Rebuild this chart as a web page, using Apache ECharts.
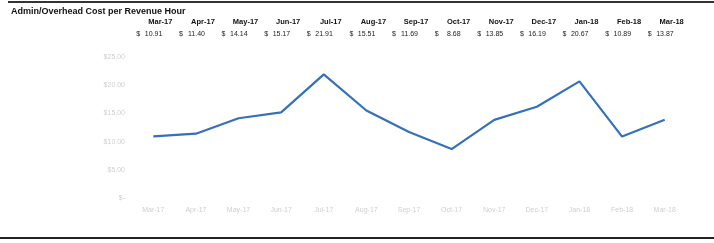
<!DOCTYPE html>
<html><head><meta charset="utf-8">
<script src="https://cdn.jsdelivr.net/npm/echarts@6/dist/echarts.min.js"></script>
<style>html,body{margin:0;padding:0;background:#fff}#c{width:714px;height:243px}</style>
</head><body><div id="c"></div>
<script>
var categories = ['Mar-17','Apr-17','May-17','Jun-17','Jul-17','Aug-17','Sep-17','Oct-17','Nov-17','Dec-17','Jan-18','Feb-18','Mar-18'];
var costValues = [10.91, 11.40, 14.14, 15.17, 21.91, 15.51, 11.69, 8.68, 13.85, 16.19, 20.67, 10.89, 13.87];
var yTicks = [0, 5, 10, 15, 20, 25];

var chart = echarts.init(document.getElementById('c'));
var font = 'Liberation Sans, Arial, sans-serif';
chart.setOption({
  animation: false,
  textStyle: {fontFamily: font},
  grid: {left: 132, right: 28, top: 57, bottom: 45},
  xAxis: {
    type: 'category', data: categories, boundaryGap: true,
    axisLine: {show: false}, axisTick: {show: false},
    axisLabel: {color: '#cfcfcf', fontSize: 7, margin: 9}
  },
  yAxis: {
    type: 'value', min: yTicks[0], max: yTicks[yTicks.length-1], interval: 5,
    splitLine: {show: false}, axisLine: {show: false}, axisTick: {show: false},
    axisLabel: {color: '#cfcfcf', fontSize: 7, margin: 7,
      formatter: function(v){ return v === 0 ? '$-' : '$' + v.toFixed(2); }}
  },
  series: [{
    type: 'line', data: costValues, showSymbol: false,
    lineStyle: {color: '#3570b8', width: 2.2}
  }]
});

var g = [
  {type: 'rect', shape: {x: 8, y: 1, width: 706, height: 2}, style: {fill: '#333'}},
  {type: 'rect', shape: {x: 0, y: 237, width: 714, height: 2}, style: {fill: '#222'}},
  {type: 'text', x: 11, y: 7, style: {text: 'Admin/Overhead Cost per Revenue Hour', font: 'bold 9px ' + font, fill: '#111'}}
];
categories.forEach(function(c, i){
  var px = chart.convertToPixel({xAxisIndex: 0}, i);
  g.push({type: 'text', x: px + 7, y: 22, style: {text: c, font: 'bold 7.5px ' + font, fill: '#111', align: 'center', verticalAlign: 'middle'}});
  g.push({type: 'text', x: px - 15, y: 34, style: {text: '$', font: '7px ' + font, fill: '#222', align: 'center', verticalAlign: 'middle'}});
  g.push({type: 'text', x: px + 9, y: 34, style: {text: costValues[i].toFixed(2), font: '7px ' + font, fill: '#222', align: 'right', verticalAlign: 'middle'}});
});
chart.setOption({graphic: g});
</script></body></html>
